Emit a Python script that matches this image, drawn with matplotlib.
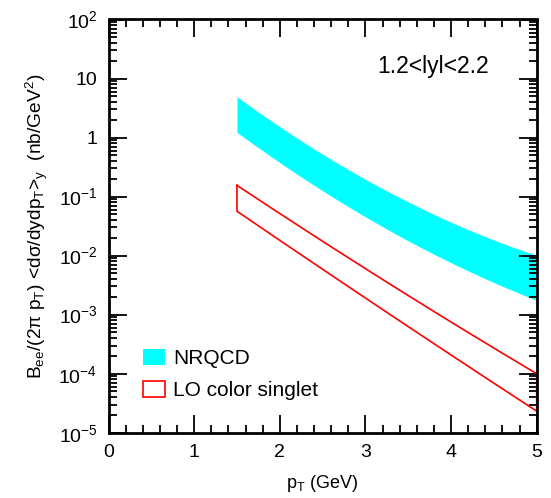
import matplotlib
matplotlib.use("Agg")
import matplotlib.pyplot as plt
import numpy as np
from matplotlib.ticker import LogLocator, MultipleLocator, NullFormatter, FuncFormatter
from matplotlib.patches import Patch

plt.rcParams['font.family'] = ['Liberation Sans', 'DejaVu Sans']
plt.rcParams['mathtext.fontset'] = 'custom'
plt.rcParams['mathtext.rm'] = 'Liberation Sans'
plt.rcParams['mathtext.it'] = 'Liberation Sans'
plt.rcParams['mathtext.default'] = 'regular'

# NRQCD band
nrqcd_pt = [1.5, 2.236, 2.975, 3.987, 5.0]
nrqcd_hi = [4.86, 0.91, 0.217, 0.0353, 0.0103]
nrqcd_lo = [1.31, 0.191, 0.052, 0.0079, 0.00172]

# LO color singlet band
lo_pt = [1.5, 2.586, 3.754, 5.0]
lo_hi = [0.153, 0.0151, 0.0012, 1.01e-4]
lo_lo = [0.0533, 0.0057, 3.06e-4, 2.43e-5]

annot = "1.2<lyl<2.2"
xlabel = r"p$_{\rm T}$ (GeV)"
ylabel = r"B$_{\rm ee}$/(2$\pi$ p$_{\rm T}$) <d$\sigma$/dydp$_{\rm T}$>$_{\rm y}$  (nb/GeV$^2$)"

fig = plt.figure(figsize=(5.51, 4.98), dpi=100)
ax = fig.add_axes([108.5/551, 1-432.7/498, (536.7-108.5)/551, (432.7-19.5)/498])

xn = np.linspace(1.5, 5.0, 200)
def smooth(xs, ys):
    c = np.polyfit(xs, np.log10(ys), 2)
    return 10 ** np.polyval(c, xn)

nh = smooth(nrqcd_pt, nrqcd_hi)
nl = smooth(nrqcd_pt, nrqcd_lo)
ax.fill_between(xn, nl, nh, color='#00ffff', lw=0)

lh = smooth(lo_pt, lo_hi)
ll = smooth(lo_pt, lo_lo)
px = np.concatenate([xn, xn[::-1], [xn[0]]])
py = np.concatenate([lh, ll[::-1], [lh[0]]])
ax.plot(px, py, color='#ff0000', lw=1.2)

ax.set_yscale('log')
ax.set_xlim(0, 5)
ax.set_ylim(1e-5, 1e2)

ax.xaxis.set_major_locator(MultipleLocator(1))
ax.xaxis.set_minor_locator(MultipleLocator(0.2))
ax.yaxis.set_major_locator(LogLocator(base=10, numticks=20))
ax.yaxis.set_minor_locator(LogLocator(base=10, subs=np.arange(2, 10), numticks=20))
ax.yaxis.set_minor_formatter(NullFormatter())

def yfmt(v, pos):
    e = int(round(np.log10(v)))
    if e == 0:
        return "1"
    if e == 1:
        return "10"
    return r"10$^{%d}$" % e
ax.yaxis.set_major_formatter(FuncFormatter(yfmt))

ax.tick_params(which='both', direction='in', top=True, right=True, width=1.3, labelsize=14)
ax.tick_params(which='major', length=13, pad=8)
ax.tick_params(which='minor', length=6)
for s in ax.spines.values():
    s.set_linewidth(2)

ax.set_xlabel(xlabel, fontsize=13, labelpad=9)
ax.set_ylabel(ylabel, fontsize=13.8, labelpad=6)

ax.text(0.758, 0.886, annot, transform=ax.transAxes, fontsize=16.5, ha='center', va='center')

handles = [Patch(facecolor='#00ffff', edgecolor='none', label='NRQCD'),
           Patch(facecolor='none', edgecolor='#ff0000', lw=1.2, label='LO color singlet')]
leg = ax.legend(handles=handles, loc='lower left', bbox_to_anchor=(0.08, 0.078), frameon=False,
                fontsize=15, handlelength=1.05, handleheight=0.8, labelspacing=0.62,
                handletextpad=0.4, borderpad=0, borderaxespad=0)

fig.savefig('out.png', dpi=100)
